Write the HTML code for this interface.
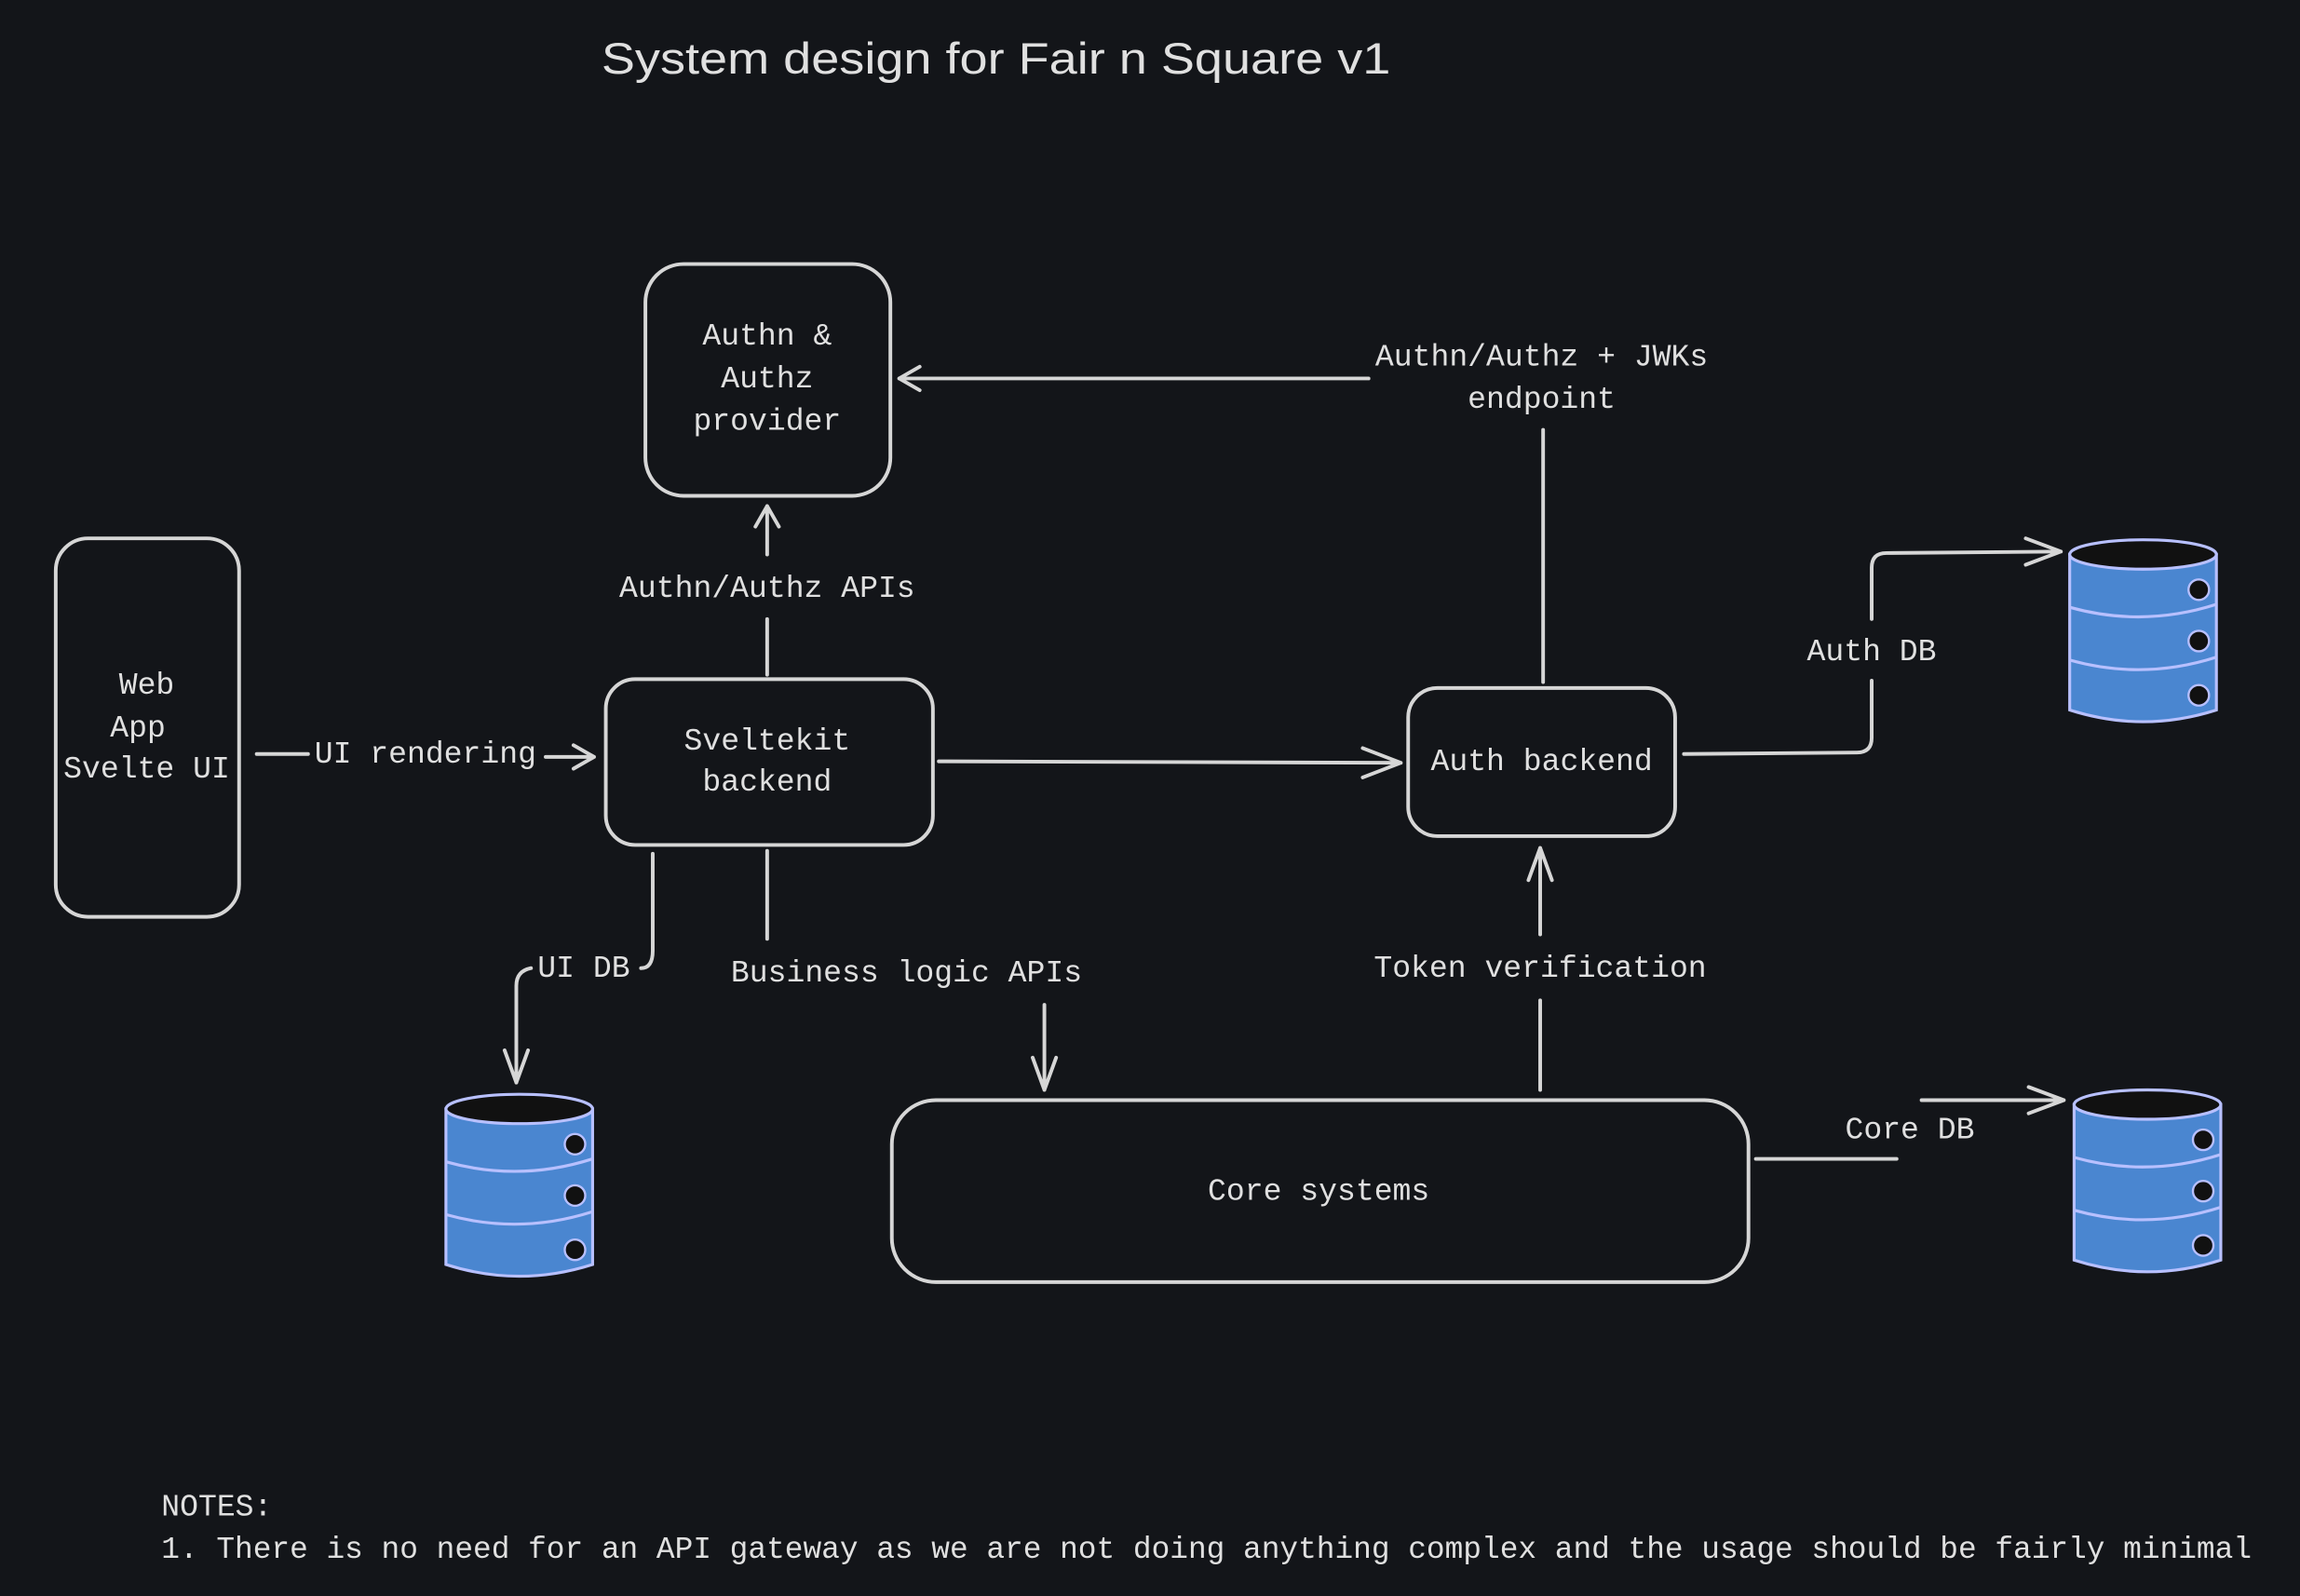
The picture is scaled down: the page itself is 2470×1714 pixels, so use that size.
<!DOCTYPE html>
<html><head><meta charset="utf-8"><style>
html,body{margin:0;padding:0;background:#131519;}
svg{display:block}
text{font-family:"Liberation Mono","DejaVu Sans Mono",monospace;font-size:21px;fill:#e0e0e0;text-anchor:middle}
</style></head><body>
<svg width="2470" height="1714" viewBox="0 0 1568 1088" preserveAspectRatio="none" xmlns="http://www.w3.org/2000/svg">
<defs>
<g id="db">
<path d="M1,12 L1,118 Q51,134 101,118 L101,12 Z" fill="#4a86d0" stroke="#b8c0ff" stroke-width="2"/>
<ellipse cx="51" cy="12" rx="50" ry="10" fill="#111" stroke="#b8c0ff" stroke-width="2"/>
<path d="M1,48 Q51,62 101,46 M1,84 Q51,98 101,82" fill="none" stroke="#b8c0ff" stroke-width="2"/>
<circle cx="89" cy="36" r="7" fill="#111" stroke="#b8c0ff" stroke-width="1.5"/>
<circle cx="89" cy="71" r="7" fill="#111" stroke="#b8c0ff" stroke-width="1.5"/>
<circle cx="89" cy="108" r="7" fill="#111" stroke="#b8c0ff" stroke-width="1.5"/>
</g>
</defs>
<rect width="1568" height="1088" fill="#131519"/>
<text x="410" y="50" style="text-anchor:start;font-family:'Liberation Sans',sans-serif;font-size:30px" textLength="538" lengthAdjust="spacingAndGlyphs">System design for Fair n Square v1</text>

<g fill="none" stroke="#d6d6d6" stroke-width="2.5" stroke-linecap="round" stroke-linejoin="round">
<rect x="440" y="180" width="167" height="158" rx="26"/>
<rect x="38" y="367" width="125" height="258" rx="22"/>
<rect x="413" y="463" width="223" height="113" rx="20"/>
<rect x="960" y="469" width="182" height="101" rx="20"/>
<rect x="608" y="750" width="584" height="124" rx="30"/>

<!-- JWKs -->
<path d="M933,258 L613,258 M627,250 L613,258 L627,266"/>
<path d="M1052,293 L1052,465"/>
<!-- Authn APIs -->
<path d="M523,460 L523,422"/>
<path d="M523,378 L523,345 M515,359 L523,345 L531,359"/>
<!-- UI rendering -->
<path d="M175,514 L210,514"/>
<path d="M372,516 L405,516 M391,508 L405,516 L391,524"/>
<!-- svelte -> auth -->
<path d="M640,519 L955,520 M929,510 L955,520 L929,530"/>
<!-- auth db -->
<path d="M1148,514 L1266,513 Q1276,513 1276,503 L1276,464"/>
<path d="M1276,422 L1276,387 Q1276,377 1286,377 L1405,376 M1381,367 L1405,376 L1381,385"/>
<!-- UI DB -->
<path d="M445,582 L445,648 Q445,660 437,660"/>
<path d="M362,660 Q352,662 352,672 L352,738 M344,716 L352,738 L360,716"/>
<!-- business logic -->
<path d="M523,580 L523,640"/>
<path d="M712,685 L712,743 M704,721 L712,743 L720,721"/>
<!-- token verification -->
<path d="M1050,743 L1050,682"/>
<path d="M1050,637 L1050,578 M1042,600 L1050,578 L1058,600"/>
<!-- core db -->
<path d="M1197,790 L1293,790"/>
<path d="M1310,750 L1407,750 M1383,741 L1407,750 L1383,759"/>
</g>

<use href="#db" x="1410" y="366"/>
<use href="#db" x="1413" y="741"/>
<use href="#db" x="303" y="744"/>

<text x="523" y="235">Authn &amp;</text>
<text x="523" y="264">Authz</text>
<text x="523" y="293">provider</text>
<text x="100" y="473">Web</text>
<text x="94" y="502">App</text>
<text x="100" y="530">Svelte UI</text>
<text x="523" y="511">Sveltekit</text>
<text x="523" y="539">backend</text>
<text x="1051" y="525">Auth backend</text>
<text x="899" y="818">Core systems</text>
<text x="1051" y="249">Authn/Authz + JWKs</text>
<text x="1051" y="278">endpoint</text>
<text x="523" y="407">Authn/Authz APIs</text>
<text x="290" y="520">UI rendering</text>
<text x="1276" y="450">Auth DB</text>
<text x="398" y="666">UI DB</text>
<text x="618" y="669">Business logic APIs</text>
<text x="1050" y="666">Token verification</text>
<text x="1302" y="776">Core DB</text>
<text x="110" y="1033" style="text-anchor:start">NOTES:</text>
<text x="110" y="1062" style="text-anchor:start" textLength="1425" lengthAdjust="spacingAndGlyphs">1. There is no need for an API gateway as we are not doing anything complex and the usage should be fairly minimal</text>
</svg>
</body></html>
